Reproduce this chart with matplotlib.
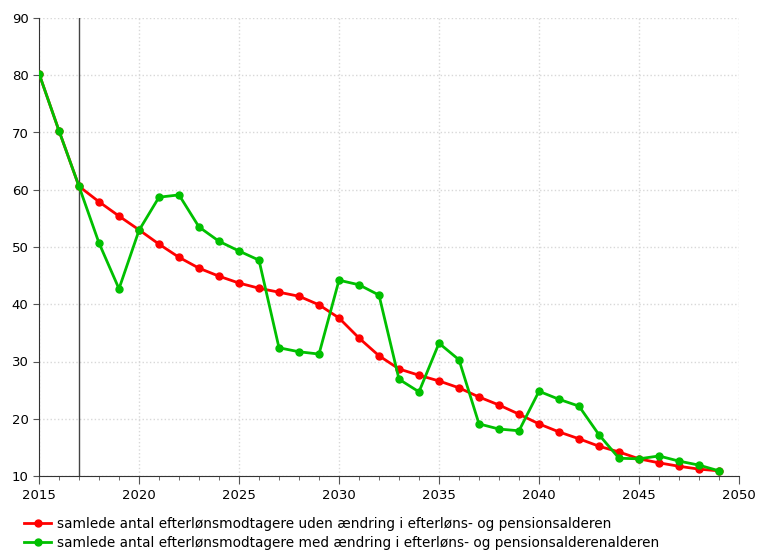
import matplotlib
matplotlib.use("Agg")
import matplotlib.pyplot as plt
from matplotlib.ticker import MultipleLocator

years = list(range(2015, 2050))
uden = [80.3, 70.3, 60.6, 57.9, 55.4, 53.0, 50.5, 48.2, 46.3, 44.9,
        43.7, 42.8, 42.1, 41.4, 39.9, 37.6, 34.1, 31.0, 28.7, 27.6,
        26.6, 25.4, 23.8, 22.4, 20.8, 19.1, 17.7, 16.5, 15.2, 14.2,
        13.0, 12.3, 11.7, 11.2, 10.9]
med = [80.3, 70.3, 60.6, 50.7, 42.7, 52.9, 58.7, 59.1, 53.5, 51.0,
       49.3, 47.7, 32.4, 31.7, 31.3, 44.2, 43.4, 41.6, 26.9, 24.7,
       33.2, 30.3, 19.1, 18.2, 17.9, 24.8, 23.4, 22.2, 17.2, 13.1,
       13.0, 13.5, 12.6, 11.9, 10.9]
labels = ["samlede antal efterlønsmodtagere uden ændring i efterløns- og pensionsalderen",
          "samlede antal efterlønsmodtagere med ændring i efterløns- og pensionsalderenalderen"]

fig = plt.figure(figsize=(7.6, 5.52), dpi=100)
ax = fig.add_axes([39/760, 1 - 476/552, 700/760, 458/552])

ax.plot(years, uden, color="#ff0000", lw=2, marker="o", ms=5, label=labels[0], zorder=3)
ax.plot(years, med, color="#00c000", lw=2, marker="o", ms=5, label=labels[1], zorder=4)
ax.axvline(2017, color="#444444", lw=1, zorder=2)

ax.set_xlim(2015, 2050)
ax.set_ylim(10, 90)
ax.xaxis.set_major_locator(MultipleLocator(5))
ax.xaxis.set_minor_locator(MultipleLocator(1))
ax.yaxis.set_major_locator(MultipleLocator(10))
ax.grid(True, which="major", color="#d8d8d8", ls=":", lw=1)
ax.spines["top"].set_visible(False)
ax.spines["right"].set_visible(False)
ax.spines["left"].set_color("#333333")
ax.spines["bottom"].set_color("#333333")
ax.tick_params(which="major", length=6, color="#555555", labelsize=9.5)
ax.tick_params(which="minor", length=3, color="#555555")
ax.tick_params(axis="y", length=4)

fig.legend(loc="lower left", bbox_to_anchor=(22/760, 0.0), frameon=False,
           fontsize=9.8, handlelength=2.0, handletextpad=0.45,
           labelspacing=0.35, borderaxespad=0.0, borderpad=0.15)

fig.savefig("out.png", dpi=100)
